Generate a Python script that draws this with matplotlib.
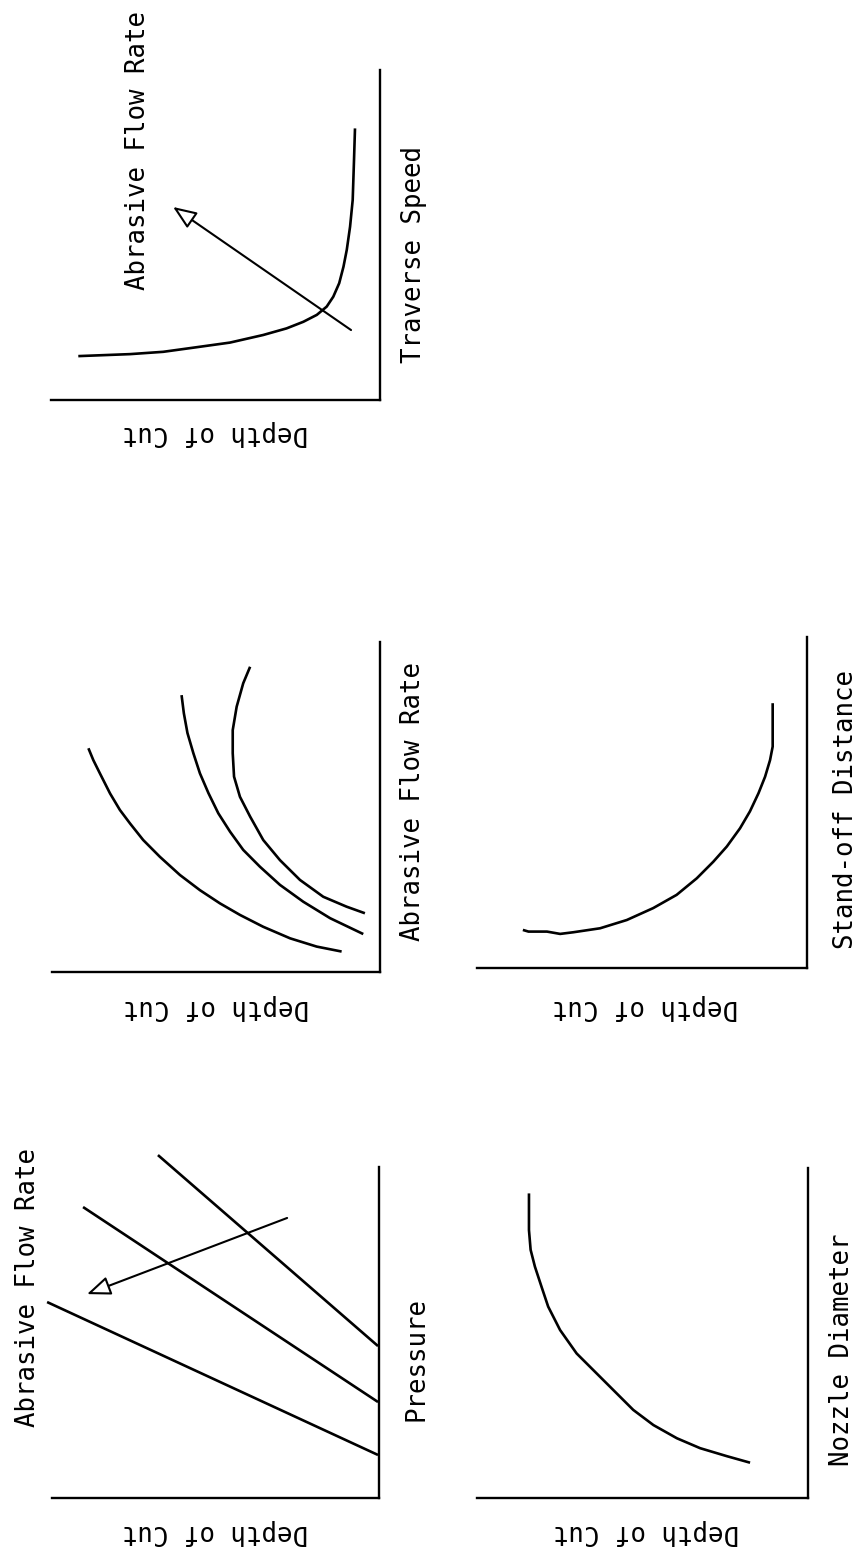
import matplotlib
matplotlib.use("Agg")
import matplotlib.pyplot as plt

W, H = 867, 1564
FONT = "DejaVu Sans Mono"
FS = 18.5

# ---- data (depth of cut vs. process parameter, arbitrary units 0-10) ----
traverse_speed = [8.23, 7.27, 6.06, 5.25, 4.55, 4.04, 3.54, 3.13, 2.83, 2.58, 2.37, 2.17,
                  1.97, 1.74, 1.60, 1.46, 1.39, 1.33]
traverse_depth = [0.76, 0.79, 0.83, 0.91, 1.01, 1.11, 1.24, 1.42, 1.62, 1.92, 2.33, 2.84,
                  3.55, 4.56, 5.57, 6.59, 7.60, 9.17]
traverse_arrow = [(0.88, 2.12), (6.29, 5.85)]  # (depth, speed) tail -> head

afr_flow = [
    [6.78, 6.42, 6.02, 5.41, 4.91, 4.50, 4.00, 3.49, 2.94, 2.48, 2.08, 1.73, 1.37, 1.02, 0.77, 0.62],
    [8.39, 7.84, 7.24, 6.63, 6.02, 5.42, 4.81, 4.25, 3.70, 3.19, 2.64, 2.13, 1.63, 1.15],
    [9.25, 8.75, 8.04, 7.33, 6.63, 5.92, 5.31, 4.71, 4.00, 3.39, 2.79, 2.28, 1.98, 1.78],
]
afr_depth = [
    [8.89, 8.74, 8.54, 8.23, 7.93, 7.62, 7.22, 6.71, 6.10, 5.49, 4.88, 4.27, 3.56, 2.74, 1.93, 1.17],
    [6.05, 5.98, 5.87, 5.69, 5.49, 5.23, 4.93, 4.57, 4.17, 3.66, 3.05, 2.34, 1.52, 0.51],
    [3.96, 4.17, 4.37, 4.49, 4.49, 4.45, 4.27, 3.96, 3.56, 3.05, 2.44, 1.73, 1.02, 0.46],
]

standoff_dist = [8.00, 6.69, 6.28, 5.78, 5.28, 4.73, 4.22, 3.67, 3.21, 2.71, 2.21, 1.81,
                 1.45, 1.20, 1.08, 1.03, 1.10, 1.10, 1.15]
standoff_depth = [1.04, 1.04, 1.12, 1.27, 1.47, 1.73, 2.03, 2.43, 2.84, 3.34, 3.95, 4.66,
                  5.46, 6.27, 7.08, 7.48, 7.88, 8.44, 8.61]

pressure_vals = [[5.92, 1.30], [8.79, 2.90], [10.36, 4.59]]
pressure_depth = [[10.15, 0.03], [9.05, 0.03], [6.76, 0.03]]
pressure_arrow = [(2.81, 8.46), (8.93, 6.16)]  # (depth, pressure) tail -> head

nozzle_dia = [9.23, 8.12, 7.52, 7.01, 6.40, 5.80, 5.09, 4.38, 3.88, 3.27, 2.67, 2.21,
              1.81, 1.51, 1.27, 1.07]
nozzle_depth = [8.43, 8.43, 8.38, 8.25, 8.05, 7.85, 7.49, 6.99, 6.49, 5.88, 5.28, 4.67,
                3.96, 3.26, 2.46, 1.75]

fig = plt.figure(figsize=(W / 100, H / 100), dpi=100)


def panel(left, top, right, bottom):
    ax = fig.add_axes([left / W, 1 - bottom / H, (right - left) / W, (bottom - top) / H])
    ax.set_xlim(10, 0)   # depth of cut grows to the left
    ax.set_ylim(0, 10)   # parameter grows upward
    for side in ("top", "left"):
        ax.spines[side].set_visible(False)
    for side in ("right", "bottom"):
        ax.spines[side].set_linewidth(1.7)
    ax.set_xticks([])
    ax.set_yticks([])
    ax.patch.set_alpha(0)
    return ax


def labels(ax, param, px, py, dx=0.5, dy=-0.10):
    ax.text(px, py, param, transform=ax.transAxes, rotation=90, rotation_mode="anchor",
            ha="center", va="center", family=FONT, fontsize=FS)
    ax.text(dx, dy, "Depth of Cut", transform=ax.transAxes, rotation=180, rotation_mode="anchor",
            ha="center", va="center", family=FONT, fontsize=FS)


def arrow(ax, pts):
    (x0, y0), (x1, y1) = pts
    ax.annotate("", xy=(x1, y1), xytext=(x0, y0),
                arrowprops=dict(arrowstyle="-|>,head_length=0.8,head_width=0.32",
                                fc="white", ec="black", lw=1.5,
                                shrinkA=0, shrinkB=0, mutation_scale=18),
                annotation_clip=False)


LINE = dict(color="black", lw=1.9, clip_on=False, solid_joinstyle="round", solid_capstyle="butt")

# Traverse speed
ax1 = panel(51, 70, 380, 400)
ax1.plot(traverse_depth, traverse_speed, **LINE)
arrow(ax1, traverse_arrow)
ax1.text(0.264, 0.755, "Abrasive Flow Rate", transform=ax1.transAxes, rotation=90,
         rotation_mode="anchor", ha="center", va="center", family=FONT, fontsize=FS)
labels(ax1, "Traverse Speed", 1.103, 0.44, dy=-0.10)

# Abrasive flow rate
ax2 = panel(52, 642, 380, 972)
for d, f in zip(afr_depth, afr_flow):
    ax2.plot(d, f, **LINE)
labels(ax2, "Abrasive Flow Rate", 1.102, 0.517, dy=-0.106)

# Stand-off distance
ax3 = panel(477, 637, 807, 968)
ax3.plot(standoff_depth, standoff_dist, **LINE)
labels(ax3, "Stand-off Distance", 1.118, 0.48, dx=0.51, dy=-0.118)

# Pressure
ax4 = panel(52, 1167, 379, 1498)
for d, p in zip(pressure_depth, pressure_vals):
    ax4.plot(d, p, **LINE)
arrow(ax4, pressure_arrow)
ax4.text(-0.073, 0.637, "Abrasive Flow Rate", transform=ax4.transAxes, rotation=90,
         rotation_mode="anchor", ha="center", va="center", family=FONT, fontsize=FS)
labels(ax4, "Pressure", 1.116, 0.42, dy=-0.103)

# Nozzle diameter
ax5 = panel(477, 1168, 808, 1498)
ax5.plot(nozzle_depth, nozzle_dia, **LINE)
labels(ax5, "Nozzle Diameter", 1.103, 0.45, dx=0.51, dy=-0.103)

fig.savefig("out.png", dpi=100, facecolor="white")
